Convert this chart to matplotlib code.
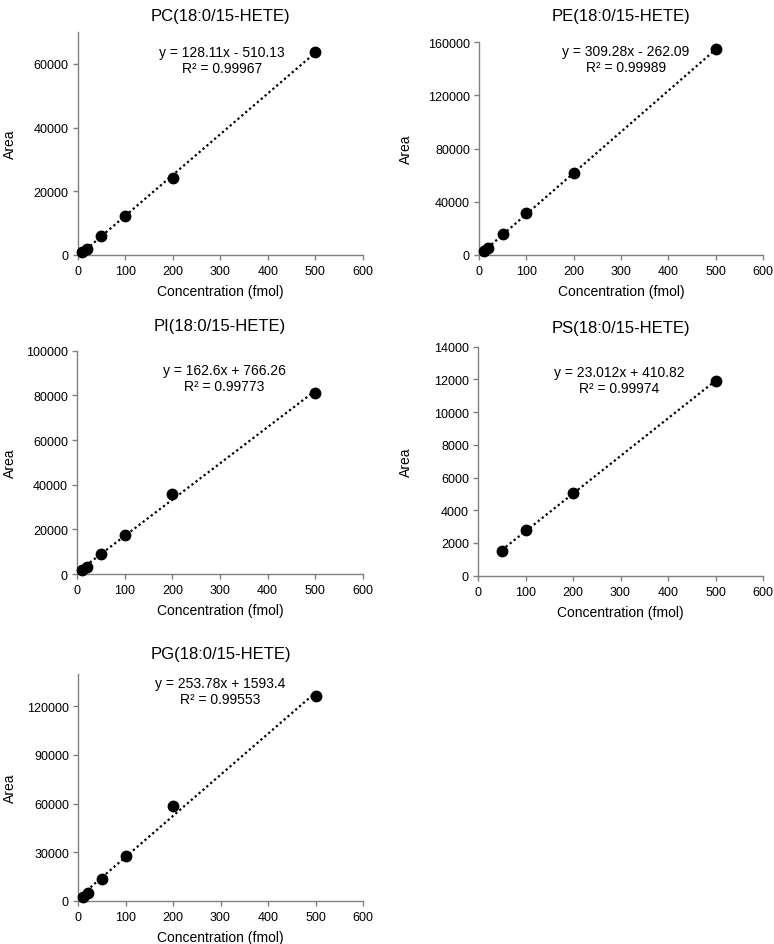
import matplotlib
matplotlib.use("Agg")
import matplotlib.pyplot as plt
import numpy as np

plt.rcParams['font.family'] = ['Liberation Sans', 'DejaVu Sans']

# ---- data ----
titles = ["PC(18:0/15-HETE)", "PE(18:0/15-HETE)", "PI(18:0/15-HETE)",
          "PS(18:0/15-HETE)", "PG(18:0/15-HETE)"]
conc_full = [10, 20, 50, 100, 200, 500]
conc_ps = [50, 100, 200, 500]
area_pc = [800, 2000, 6100, 12300, 24300, 63800]
area_pe = [2700, 5500, 15500, 31800, 61800, 154500]
area_pi = [1800, 3300, 8800, 17500, 36000, 81000]
area_ps = [1500, 2800, 5050, 11900]
area_pg = [2500, 5000, 13500, 27500, 58500, 126500]
slopes = [128.11, 309.28, 162.6, 23.012, 253.78]
intercepts = [-510.13, -262.09, 766.26, 410.82, 1593.4]
eq_texts = ["y = 128.11x - 510.13", "y = 309.28x - 262.09", "y = 162.6x + 766.26",
            "y = 23.012x + 410.82", "y = 253.78x + 1593.4"]
r2_texts = ["R² = 0.99967", "R² = 0.99989", "R² = 0.99773", "R² = 0.99974", "R² = 0.99553"]
y_max = [70000, 160000, 100000, 14000, 140000]
y_step = [20000, 40000, 20000, 2000, 30000]
y_tick_max = [60000, 160000, 100000, 14000, 120000]
x_ticks = [0, 100, 200, 300, 400, 500, 600]

xs = [conc_full, conc_full, conc_full, conc_ps, conc_full]
ys = [area_pc, area_pe, area_pi, area_ps, area_pg]

# ---- layout (pixels: left, right, top, bottom) ----
W, H = 774, 945
boxes = [(77.7, 363, 33, 256), (479, 763, 43, 256), (77, 363, 351.7, 575),
         (478, 763, 347.7, 576.6), (78, 363, 675, 901.7)]
title_y = [16, 16, 327, 328, 655]
eq_pos = [(222, 61), (626, 60), (224, 379), (619, 381), (220, 692)]
ylabel_x = [10, 406, 10, 406, 10]

fig = plt.figure(figsize=(W / 100, H / 100), dpi=100)
gray = '#808080'
for i in range(5):
    l, r, t, b = boxes[i]
    ax = fig.add_axes([l / W, 1 - b / H, (r - l) / W, (b - t) / H])
    x = np.array(xs[i], dtype=float)
    y = np.array(ys[i], dtype=float)
    xl = np.array([x.min(), x.max()])
    ax.plot(xl, slopes[i] * xl + intercepts[i], color='black', lw=1.6,
            linestyle=(0, (1, 1.3)), zorder=2)
    ax.plot(x, y, 'o', color='black', markersize=7.5, zorder=3, clip_on=False)
    ax.set_xlim(0, 600)
    ax.set_ylim(0, y_max[i])
    ax.set_xticks(x_ticks)
    ax.set_yticks(np.arange(0, y_tick_max[i] + 1, y_step[i]))
    for s in ['top', 'right']:
        ax.spines[s].set_visible(False)
    for s in ['left', 'bottom']:
        ax.spines[s].set_color(gray)
        ax.spines[s].set_linewidth(1.0)
    ax.tick_params(axis='both', direction='out', length=3.5, width=1.0,
                   color=gray, labelsize=9, labelcolor='black', pad=3)
    ax.tick_params(axis='x', pad=4)
    ax.set_xlabel("Concentration (fmol)", fontsize=10, labelpad=5)
    ax.set_ylabel("Area", fontsize=10, va='center')
    ax.yaxis.set_label_coords((ylabel_x[i] - l) / (r - l), 0.5)
    cx = (l + r) / 2
    fig.text(cx / W, 1 - title_y[i] / H, titles[i], ha='center', va='center', fontsize=12)
    ex, ey = eq_pos[i]
    fig.text(ex / W, 1 - ey / H, eq_texts[i] + "\n" + r2_texts[i], ha='center',
             va='center', fontsize=10, multialignment='center', linespacing=1.15)

fig.savefig("out.png", dpi=100)
